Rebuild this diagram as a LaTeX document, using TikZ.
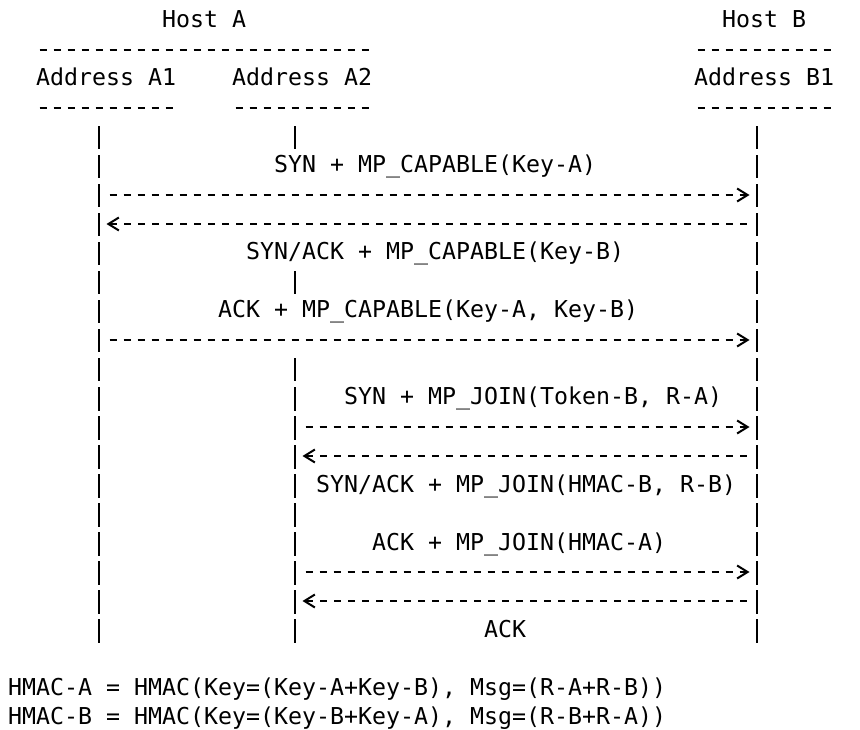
\documentclass[tikz,border=0pt]{standalone}
\usepackage{fontspec}
\setmonofont{DejaVu Sans Mono}
\usetikzlibrary{arrows.meta}
\newcommand{\mpFont}{\fontsize{23.25pt}{29pt}\selectfont\ttfamily}
\tikzset{
  mpText/.style={anchor=base west, inner sep=0pt, font=\mpFont},
  mpRule/.style={line width=2pt, dash pattern=on 7pt off 7pt, shorten <=3.5pt, shorten >=3.5pt},
  mpLife/.style={line width=2.3pt, dash pattern=on 23.2pt off 5.8pt},
  mpMsg/.style={line width=2pt, dash pattern=on 7pt off 7pt, shorten <=10.5pt, shorten >=7.5pt,
    -{Straight Barb[length=10.5pt,width=13pt,line width=2pt]}},
}

\begin{document}
\begin{tikzpicture}[x=14pt,y=-29pt]
\fill[white] (-8pt,28pt) rectangle (852pt,-702pt);
\node[mpText] (hosta) at (11,0) {Host A};
\node[mpText] (hostb) at (51,0) {Host B};
\node[mpText] (addra1) at (2,2) {Address A1};
\node[mpText] (addra2) at (16,2) {Address A2};
\node[mpText] (addrb1) at (49,2) {Address B1};
\draw[mpRule] ([yshift=36pt]addra1.base west) -- ([yshift=36pt]addra2.base east);
\draw[mpRule] ([yshift=36pt]addrb1.base west) -- ([yshift=36pt]addrb1.base east);
\draw[mpRule] ([yshift=-22pt]addra1.base west) -- ([yshift=-22pt]addra1.base east);
\draw[mpRule] ([yshift=-22pt]addra2.base west) -- ([yshift=-22pt]addra2.base east);
\draw[mpRule] ([yshift=-22pt]addrb1.base west) -- ([yshift=-22pt]addrb1.base east);
\coordinate[yshift=17.7pt] (a1top) at (6.5,4);
\coordinate[yshift=-5.5pt] (a1bot) at (6.5,21);
\coordinate[yshift=17.7pt] (btop) at (53.5,4);
\coordinate[yshift=-5.5pt] (bbot) at (53.5,21);
\coordinate[yshift=17.7pt] (a2topi) at (20.5,4);
\coordinate[yshift=-5.5pt] (a2boti) at (20.5,4);
\coordinate[yshift=17.7pt] (a2topii) at (20.5,9);
\coordinate[yshift=-5.5pt] (a2botii) at (20.5,9);
\coordinate[yshift=17.7pt] (a2topiii) at (20.5,12);
\coordinate[yshift=-5.5pt] (a2botiii) at (20.5,21);
\draw[mpLife] (a1top) -- (a1bot);
\draw[mpLife] (btop) -- (bbot);
\draw[mpLife] (a2topi) -- (a2boti);
\draw[mpLife] (a2topii) -- (a2botii);
\draw[mpLife] (a2topiii) -- (a2botiii);
\node[mpText] (synmpc) at (19,5) {SYN + MP\_CAPABLE(Key-A)};
\node[mpText] (synackmpc) at (17,8) {SYN/ACK + MP\_CAPABLE(Key-B)};
\node[mpText] (ackmpc) at (15,10) {ACK + MP\_CAPABLE(Key-A, Key-B)};
\node[mpText] (synjoin) at (24,13) {SYN + MP\_JOIN(Token-B, R-A)};
\node[mpText] (synackjoin) at (22,16) {SYN/ACK + MP\_JOIN(HMAC-B, R-B)};
\node[mpText] (ackjoin) at (26,18) {ACK + MP\_JOIN(HMAC-A)};
\node[mpText] (ack) at (34,21) {ACK};
\node[mpText] (hmaca) at (0,23) {HMAC-A = HMAC(Key=(Key-A+Key-B), Msg=(R-A+R-B))};
\node[mpText] (hmacb) at (0,24) {HMAC-B = HMAC(Key=(Key-B+Key-A), Msg=(R-B+R-A))};
\coordinate[yshift=7pt] (msgi) at (0,6);
\coordinate[yshift=7pt] (msgii) at (0,7);
\coordinate[yshift=7pt] (msgiii) at (0,11);
\coordinate[yshift=7pt] (msgiv) at (0,14);
\coordinate[yshift=7pt] (msgv) at (0,15);
\coordinate[yshift=7pt] (msgvi) at (0,19);
\coordinate[yshift=7pt] (msgvii) at (0,20);
\draw[mpMsg] (a1top |- msgi) -- (btop |- msgi);
\draw[mpMsg] (btop |- msgii) -- (a1top |- msgii);
\draw[mpMsg] (a1top |- msgiii) -- (btop |- msgiii);
\draw[mpMsg] (a2topi |- msgiv) -- (btop |- msgiv);
\draw[mpMsg] (btop |- msgv) -- (a2topi |- msgv);
\draw[mpMsg] (a2topi |- msgvi) -- (btop |- msgvi);
\draw[mpMsg] (btop |- msgvii) -- (a2topi |- msgvii);
\end{tikzpicture}
\end{document}
